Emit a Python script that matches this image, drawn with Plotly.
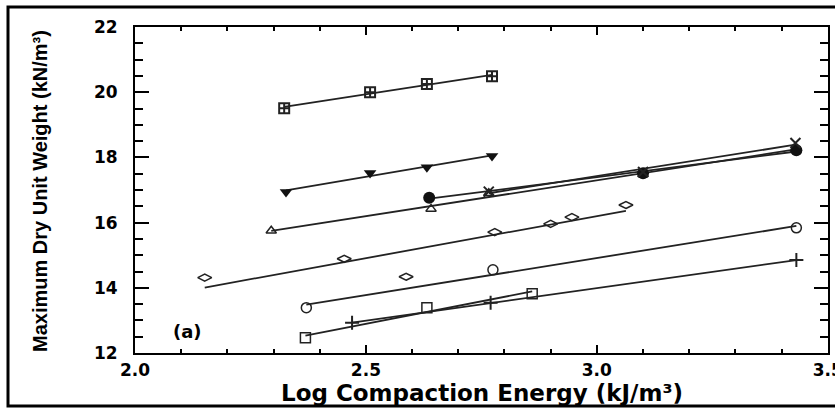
import numpy as np
import plotly.graph_objects as go

# ---- data (x = log compaction energy, y = max dry unit weight) ----
sq_cross_x = [2.323, 2.509, 2.632, 2.773]
sq_cross_y = [19.51, 20.00, 20.25, 20.49]

tri_down_x = [2.327, 2.509, 2.632, 2.773]
tri_down_y = [16.94, 17.52, 17.70, 18.04]

tri_up_x = [2.295, 2.641, 2.766, 3.100, 3.430]
tri_up_y = [15.75, 16.42, 16.90, 17.48, 18.25]

dot_x = [2.637, 3.100, 3.432]
dot_y = [16.76, 17.51, 18.22]

cross_x_x = [2.766, 3.100, 3.430]
cross_x_y = [16.95, 17.55, 18.44]

diamond_x = [2.151, 2.453, 2.587, 2.779, 2.900, 2.946, 3.063]
diamond_y = [14.31, 14.89, 14.34, 15.71, 15.96, 16.17, 16.54]

circle_x = [2.371, 2.775, 3.432]
circle_y = [13.39, 14.55, 15.84]

square_x = [2.369, 2.632, 2.860]
square_y = [12.47, 13.39, 13.82]

plus_x = [2.470, 2.770, 3.432]
plus_y = [12.93, 13.54, 14.85]

x_range = [2.0, 3.5005]
y_range = [12, 22]
x_tickvals = [2.0, 2.5, 3.0, 3.5]
x_ticktext = ["2.0", "2.5", "3.0", "3.5"]
x_title = "Log Compaction Energy (kJ/m³)"
y_title = "Maximum Dry Unit Weight (kN/m³)"
panel_label = "(a)"
panel_label_pos = (2.114, 12.65)

series = [
    (sq_cross_x, sq_cross_y, dict(symbol="square-cross-open", size=10, color="#222", line=dict(width=2, color="#222"))),
    (tri_down_x, tri_down_y, dict(symbol="triangle-down", size=11, color="#111")),
    (tri_up_x, tri_up_y, dict(symbol="triangle-up-open", size=9, color="#222", line=dict(width=1.5, color="#222"))),
    (dot_x, dot_y, dict(symbol="circle", size=12, color="#111")),
    (cross_x_x, cross_x_y, dict(symbol="x-thin-open", size=10, color="#222", line=dict(width=2, color="#222"))),
    (diamond_x, diamond_y, dict(symbol="diamond-wide-open", size=10, color="#222", line=dict(width=1.5, color="#222"))),
    (circle_x, circle_y, dict(symbol="circle-open", size=10, color="#222", line=dict(width=1.5, color="#222"))),
    (square_x, square_y, dict(symbol="square-open", size=10, color="#222", line=dict(width=1.5, color="#222"))),
    (plus_x, plus_y, dict(symbol="cross-thin-open", size=10, color="#222", line=dict(width=2, color="#222"))),
]

fig = go.Figure()

# least-squares fit lines (as in the original figure)
for xs, ys, _ in series:
    k, b = np.polyfit(xs, ys, 1)
    xl = np.array([min(xs), max(xs)])
    fig.add_trace(go.Scatter(x=xl, y=k * xl + b, mode="lines",
                             line=dict(color="#222", width=1.8),
                             hoverinfo="skip", showlegend=False))

for xs, ys, mk in series:
    fig.add_trace(go.Scatter(x=xs, y=ys, mode="markers", marker=mk, showlegend=False))

L, R, T, B = 135, 7, 27, 55
W, H = 835, 408
pw, ph = W - L - R, H - T - B


def px(xp):
    return (xp - L) / pw


def py(yp):
    return (H - B - yp) / ph


tickfont = dict(family="DejaVu Sans", size=17, color="black", weight="bold")

fig.update_layout(
    width=W, height=H,
    margin=dict(l=L, r=R, t=T, b=B, autoexpand=False),
    paper_bgcolor="white", plot_bgcolor="white",
    showlegend=False,
    xaxis=dict(range=x_range, tickmode="array", tickvals=x_tickvals, ticktext=x_ticktext,
               showline=True, linecolor="black", linewidth=2, mirror="ticks",
               ticks="inside", ticklen=8, tickwidth=2, tickcolor="black",
               minor=dict(tickmode="linear", tick0=2.0, dtick=0.1, ticks="inside", ticklen=4,
                          tickwidth=2, tickcolor="black"),
               showgrid=False, zeroline=False, tickfont=tickfont, ticklabelstandoff=1,
               ticklabeloverflow="allow", automargin=False),
    yaxis=dict(range=y_range, tick0=12, dtick=2,
               showline=True, linecolor="black", linewidth=2, mirror="ticks",
               ticks="inside", ticklen=14, tickwidth=2, tickcolor="black",
               minor=dict(dtick=0.5, ticks="inside", ticklen=8, tickwidth=2, tickcolor="black"),
               showgrid=False, zeroline=False, tickfont=tickfont, ticklabelstandoff=12,
               automargin=False),
    annotations=[
        dict(text=x_title, xref="paper", yref="paper", x=0.5, y=py(393),
             xanchor="center", yanchor="middle", showarrow=False,
             font=dict(family="DejaVu Sans", size=23, color="black", weight="bold")),
        dict(text=y_title, xref="paper", yref="paper", x=px(40), y=py(191),
             xanchor="center", yanchor="middle", textangle=-90, showarrow=False,
             font=dict(family="Liberation Sans Narrow, Liberation Sans", size=20, color="black", weight="bold")),
        dict(text=panel_label, xref="x", yref="y", x=panel_label_pos[0], y=panel_label_pos[1],
             xanchor="center", yanchor="middle", showarrow=False,
             font=dict(family="DejaVu Sans", size=18, color="black", weight="bold")),
    ],
    shapes=[
        dict(type="rect", xref="paper", yref="paper", x0=px(8), x1=px(845), y0=py(406), y1=py(7),
             line=dict(color="black", width=3), fillcolor="rgba(0,0,0,0)", layer="below"),
    ],
)

fig.write_html("out.html")
